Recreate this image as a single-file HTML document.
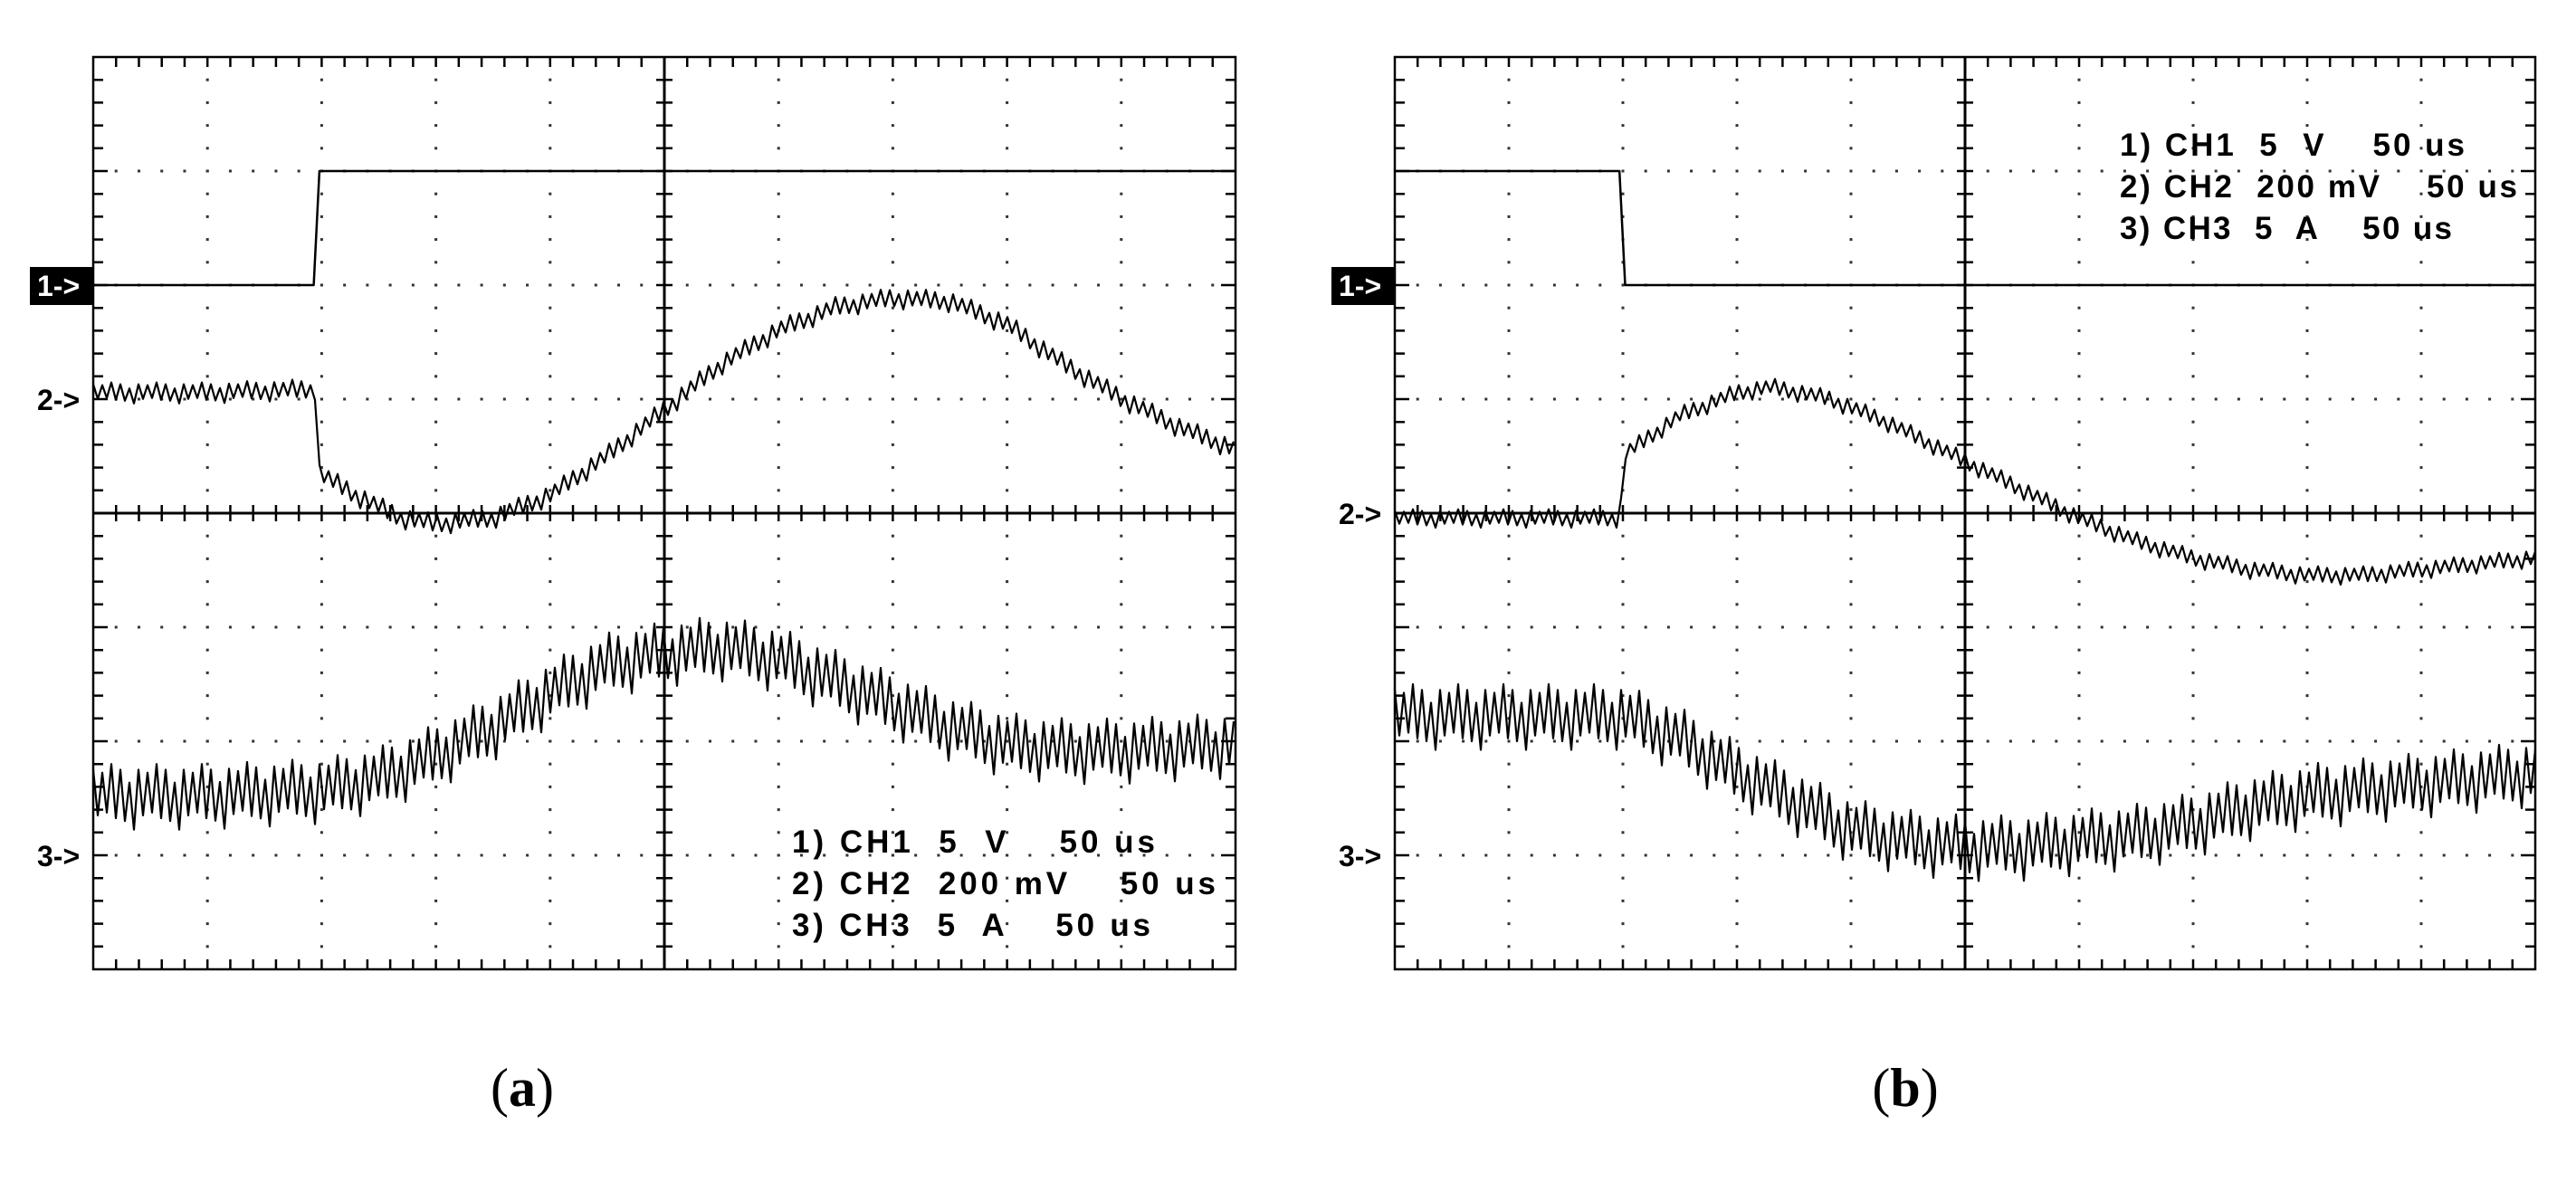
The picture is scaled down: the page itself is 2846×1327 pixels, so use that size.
<!DOCTYPE html>
<html><head><meta charset="utf-8"><style>
html,body{margin:0;padding:0;background:#fff;}
svg{display:block;}
</style></head><body>
<svg id="fig" width="2846" height="1327" viewBox="0 0 2846 1327" xmlns="http://www.w3.org/2000/svg">
<rect width="2846" height="1327" fill="#fff"/>
<g id="panelA"></g>
<g id="panelB"></g>
<text x="577" y="1222" text-anchor="middle" font-family="Liberation Serif, serif" font-size="60">(<tspan font-weight="bold">a</tspan>)</text>
<text x="2105" y="1222" text-anchor="middle" font-family="Liberation Serif, serif" font-size="60">(<tspan font-weight="bold">b</tspan>)</text>
</svg>
<script>
// Data in screen divisions (x: 0..10, y: 0..8 from top)
const aCh1X = [0, 1.93, 1.98, 10];
const aCh1Y = [2, 2, 1, 1];
const aCh2X = [0,1,1.95,1.97,2.3,2.7,3.0,3.5,4,4.5,5,5.5,6,6.5,7,7.5,8,8.5,9,9.5,10];
const aCh2Y = [2.95,2.95,2.92,3.65,3.85,4.05,4.1,4.05,3.85,3.5,3.1,2.7,2.4,2.2,2.12,2.15,2.35,2.7,3.0,3.25,3.45];
const aCh3X = [0,1,2,2.5,3,3.5,4,4.5,5,5.5,6,6.5,7,7.5,8,8.5,9,10];
const aCh3Y = [6.5,6.5,6.45,6.35,6.15,5.9,5.6,5.35,5.25,5.2,5.3,5.5,5.7,5.9,6.05,6.1,6.1,6.05];
const bCh1X = [0, 1.97, 2.02, 10];
const bCh1Y = [1, 1, 2, 2];
const bCh2X = [0,1,1.98,2.0,2.5,3,3.3,3.8,4.3,5,5.5,6,6.5,7,7.5,8,8.5,9,9.5,10];
const bCh2Y = [4.05,4.05,4.05,3.5,3.15,2.95,2.9,3.0,3.2,3.55,3.8,4.05,4.25,4.4,4.5,4.55,4.55,4.5,4.45,4.4];
const bCh3X = [0,1,2,2.5,3,3.5,4,4.5,5,5.5,6,6.5,7,7.5,8,8.5,9,10];
const bCh3Y = [5.8,5.8,5.8,6.0,6.3,6.55,6.8,6.9,6.95,6.95,6.9,6.85,6.75,6.6,6.5,6.45,6.4,6.3];
const noiseAmp = {aCh2:0.08, aCh3:0.25, bCh2:0.07, bCh3:0.25};
const legendLines = ["1) CH1  5  V    50 us","2) CH2  200 mV    50 us","3) CH3  5  A    50 us"];

const NS="http://www.w3.org/2000/svg";
const wig=[1,0.6,0.9,0.5,1.2,0.7,1.0,0.8,0.55,1.1];
function mk(tag,attrs,parent){const e=document.createElementNS(NS,tag);for(const k in attrs)e.setAttribute(k,attrs[k]);parent.appendChild(e);return e;}
function interp(xs,ys,x){for(let i=0;i<xs.length-1;i++){if(x<=xs[i+1]){const t=(x-xs[i])/(xs[i+1]-xs[i]||1);return ys[i]+t*(ys[i+1]-ys[i]);}}return ys[ys.length-1];}

function panel(g,L,T,W,H,series,legendX,legendY,legendW,marks){
  const dx=W/10, dy=H/8;
  const sx=v=>L+v*dx, sy=v=>T+v*dy;
  for(let i=1;i<10;i++){ if(i===5)continue; for(let j=1;j<40;j++){ const d=mk('rect',{x:sx(i)-1.5,y:sy(j*0.2)-1.5,width:3,height:3,fill:'#333'},g);
    
    }}
  for(let j=1;j<8;j++){ if(j===4)continue; for(let i=1;i<50;i++){ const d=mk('rect',{x:sx(i*0.2)-1.5,y:sy(j)-1.5,width:3,height:3,fill:'#333'},g);
    
    }}
  const fr=mk('rect',{x:L,y:T,width:W,height:H,fill:'none',stroke:'#000','stroke-width':2.5},g);
  
  
  const cx=mk('line',{x1:L,x2:L+W,y1:sy(4),y2:sy(4),stroke:'#000','stroke-width':3},g);
  
  
  const cy=mk('line',{x1:sx(5),x2:sx(5),y1:T,y2:T+H,stroke:'#000','stroke-width':3},g);
  
  
  let p='';
  for(let i=1;i<50;i++){const x=sx(i*0.2);p+=`M${x},${T}v11M${x},${T+H}v-11M${x},${sy(4)-9}v18`;}
  for(let j=1;j<40;j++){const y=sy(j*0.2);p+=`M${L},${y}h11M${L+W},${y}h-11M${sx(5)-9},${y}h18`;}
  for(let j=1;j<8;j++){const y=sy(j);p+=`M${L},${y}h16M${L+W},${y}h-16`;}
  const tk=mk('path',{d:p,stroke:'#000','stroke-width':2.5,fill:'none'},g);
  
  
  series.forEach(s=>{
    let d='';
    if(!s.amp){ s.xs.forEach((x,i)=>{d+=(i?'L':'M')+sx(x).toFixed(1)+','+sy(s.ys[i]).toFixed(1);}); }
    else{
      const step=5/dx; let k=0;
      for(let x=0;x<=10.0001;x+=step,k++){
        const y=interp(s.xs,s.ys,x)+(k%2?1:-1)*s.amp*wig[k%wig.length];
        d+=(k?'L':'M')+sx(x).toFixed(1)+','+sy(y).toFixed(1);
      }
    }
    const e=mk('path',{d:d,stroke:'#000','stroke-width':s.amp?2.2:2.5,fill:'none','stroke-linejoin':'round'},g);
    
    
  });
  const m1=mk('rect',{x:L-70,y:sy(marks[0])-20,width:70,height:42,fill:'#000'},g);
  
  
  const labels=['1->','2->','3->'];
  marks.forEach((v,i)=>{
    const t=mk('text',{x:L-62,y:sy(v)+12,'font-family':'Liberation Sans, sans-serif','font-size':32,'font-weight':'bold',fill:i===0?'#fff':'#000'},g);
    t.textContent=labels[i];
    
    
  });
  legendLines.forEach((s,i)=>{
    const t=mk('text',{x:legendX,y:legendY+i*46,'font-family':'Liberation Sans, sans-serif','font-size':35,'font-weight':'bold',fill:'#000',textLength:legendW[i],lengthAdjust:'spacing'},g);
    t.setAttribute('style','white-space:pre');
    t.textContent=s;
    
    
  });
}
panel(document.getElementById('panelA'),103,63,1262,1008,[
  {name:'ch1-trace',xs:aCh1X,ys:aCh1Y,amp:0},
  {name:'ch2-trace',xs:aCh2X,ys:aCh2Y,amp:noiseAmp.aCh2},
  {name:'ch3-trace',xs:aCh3X,ys:aCh3Y,amp:noiseAmp.aCh3}],875,942,[401,468,396],[2,3,7]);
panel(document.getElementById('panelB'),1541,63,1260,1008,[
  {name:'ch1-trace',xs:bCh1X,ys:bCh1Y,amp:0},
  {name:'ch2-trace',xs:bCh2X,ys:bCh2Y,amp:noiseAmp.bCh2},
  {name:'ch3-trace',xs:bCh3X,ys:bCh3Y,amp:noiseAmp.bCh3}],2342,172,[381,439,367],[2,4,7]);
</script>
</body></html>
